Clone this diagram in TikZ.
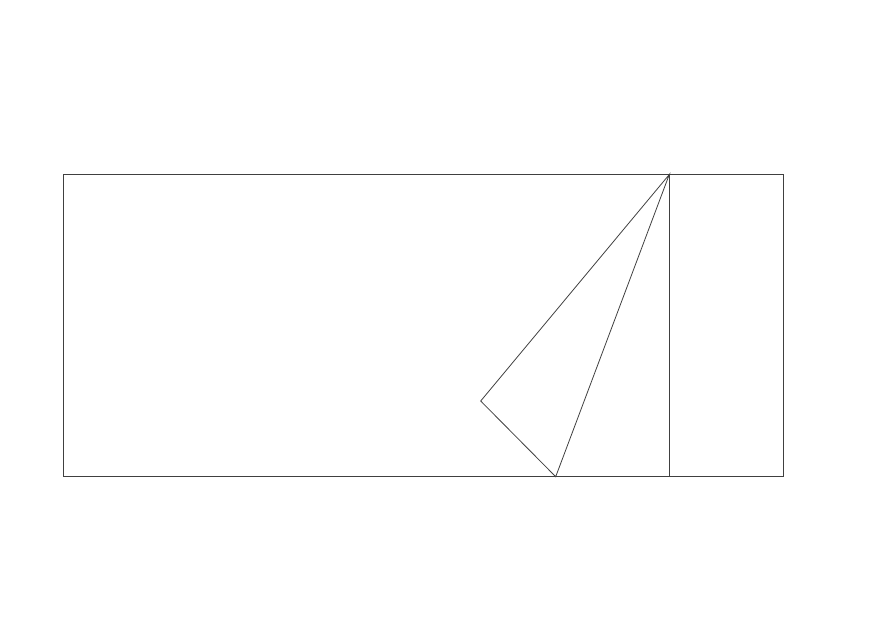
\documentclass[tikz,border=0pt]{standalone}
\usepackage{tikz}
\usetikzlibrary{calc}

\begin{document}
\begin{tikzpicture}[x=1pt, y=-1pt, line width=0.8pt]
   \useasboundingbox (0, 0) rectangle (870, 635);

   \coordinate (tl) at (63.3, 174.5);
   \coordinate (br) at (783.3, 476.7);
   \coordinate (apex) at (669.3, 174.5);
   \coordinate (foot) at (669.3, 476.7);
   \coordinate (tipl) at (480.7, 401);
   \coordinate (tipb) at (555.7, 476.7);

   \draw[black!75] (tl) rectangle (br);
   \draw[black!75] (apex) -- (foot);
   \draw[black!75] (apex) -- (tipl) -- (tipb) -- cycle;
\end{tikzpicture}
\end{document}
